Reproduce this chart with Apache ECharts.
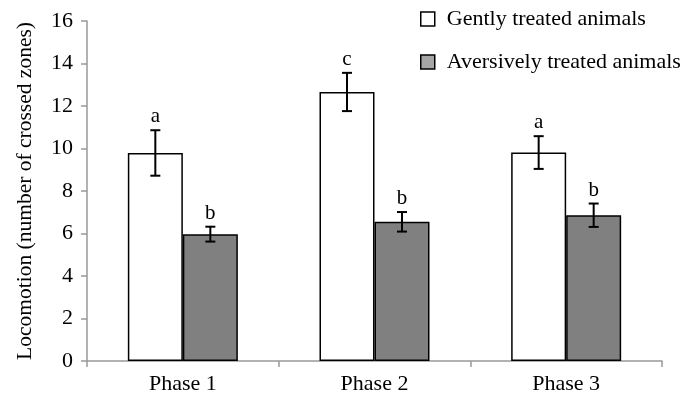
<!DOCTYPE html>
<html>
<head>
<meta charset="utf-8">
<script src="https://cdn.jsdelivr.net/npm/echarts@6/dist/echarts.min.js"></script>
<style>
  html, body { margin: 0; padding: 0; background: #fff; }
  #chart { width: 691px; height: 403px; }
</style>
</head>
<body>
<div id="chart"></div>
<script>
// Locomotion per phase, mean ± SE for the two treatment groups
const categories = ['Phase 1', 'Phase 2', 'Phase 3'];
const gentle = [9.79, 12.66, 9.81];
const gentleErr = [1.07, 0.90, 0.77];
const aversive = [5.97, 6.55, 6.86];
const aversiveErr = [0.35, 0.46, 0.55];
const gentleLetters = ['a', 'c', 'a'];
const aversiveLetters = ['b', 'b', 'b'];
const yTicks = [0, 2, 4, 6, 8, 10, 12, 14, 16];

const FONT = '"Liberation Serif", "DejaVu Serif", serif';
const FS = 22;
const BAR_W = 55;

// Error bar with a significance letter above it; offset shifts it onto its bar
function errorSeries(name, means, errs, letters, offset) {
  return {
    type: 'custom',
    name: name + ' error',
    z: 5,
    silent: true,
    data: means.map((m, i) => [i, m, errs[i], letters[i]]),
    renderItem: function (params, api) {
      const x = api.coord([api.value(0), 0])[0] + offset;
      const top = api.coord([api.value(0), api.value(1) + api.value(2)])[1];
      const bot = api.coord([api.value(0), api.value(1) - api.value(2)])[1];
      const cap = 5;
      const st = { stroke: '#000', lineWidth: 2 };
      return {
        type: 'group',
        children: [
          { type: 'line', shape: { x1: x, y1: top, x2: x, y2: bot }, style: st },
          { type: 'line', shape: { x1: x - cap, y1: top, x2: x + cap, y2: top }, style: st },
          { type: 'line', shape: { x1: x - cap, y1: bot, x2: x + cap, y2: bot }, style: st },
          {
            type: 'text',
            style: {
              text: api.value(3),
              x: x, y: top - 3,
              align: 'center', verticalAlign: 'bottom',
              font: '21px ' + FONT, fill: '#000'
            }
          }
        ]
      };
    }
  };
}

const chart = echarts.init(document.getElementById('chart'));
chart.setOption({
  animation: false,
  backgroundColor: '#fff',
  grid: { left: 87, right: 29, top: 21, bottom: 42 },
  legend: {
    orient: 'vertical',
    left: 415,
    top: 3,
    itemWidth: 14,
    itemHeight: 14,
    itemGap: 21,
    textStyle: { fontFamily: FONT, fontSize: FS, color: '#000', padding: [0, 0, 0, 7] },
    data: [
      { name: 'Gently treated animals', icon: 'rect',
        itemStyle: { color: '#fff', borderColor: '#000', borderWidth: 1.5 } },
      { name: 'Aversively treated animals', icon: 'rect',
        itemStyle: { color: '#a6a6a6', borderColor: '#000', borderWidth: 1.5 } }
    ]
  },
  xAxis: {
    type: 'category',
    data: categories,
    axisLine: { lineStyle: { color: '#999', width: 1.5 } },
    axisTick: { show: true, length: 6, lineStyle: { color: '#999', width: 1.5 } },
    axisLabel: { fontFamily: FONT, fontSize: FS, color: '#000', margin: 12 }
  },
  yAxis: {
    type: 'value',
    min: yTicks[0],
    max: yTicks[yTicks.length - 1],
    interval: 2,
    name: 'Locomotion (number of crossed zones)',
    nameLocation: 'middle',
    nameGap: 51,
    nameTextStyle: { fontFamily: FONT, fontSize: 21.5, color: '#000' },
    axisLine: { show: true, lineStyle: { color: '#999', width: 1.5 } },
    axisTick: { show: true, length: 6, lineStyle: { color: '#999', width: 1.5 } },
    splitLine: { show: false },
    axisLabel: { fontFamily: FONT, fontSize: FS, color: '#000', margin: 14 }
  },
  series: [
    {
      name: 'Gently treated animals',
      type: 'bar',
      data: gentle,
      barWidth: BAR_W,
      barGap: '0%',
      itemStyle: { color: '#fff', borderColor: '#000', borderWidth: 1.5 }
    },
    {
      name: 'Aversively treated animals',
      type: 'bar',
      data: aversive,
      barWidth: BAR_W,
      barGap: '0%',
      itemStyle: { color: '#808080', borderColor: '#000', borderWidth: 1.5 }
    },
    errorSeries('Gently treated animals', gentle, gentleErr, gentleLetters, -BAR_W / 2),
    errorSeries('Aversively treated animals', aversive, aversiveErr, aversiveLetters, BAR_W / 2)
  ]
});
</script>
</body>
</html>
